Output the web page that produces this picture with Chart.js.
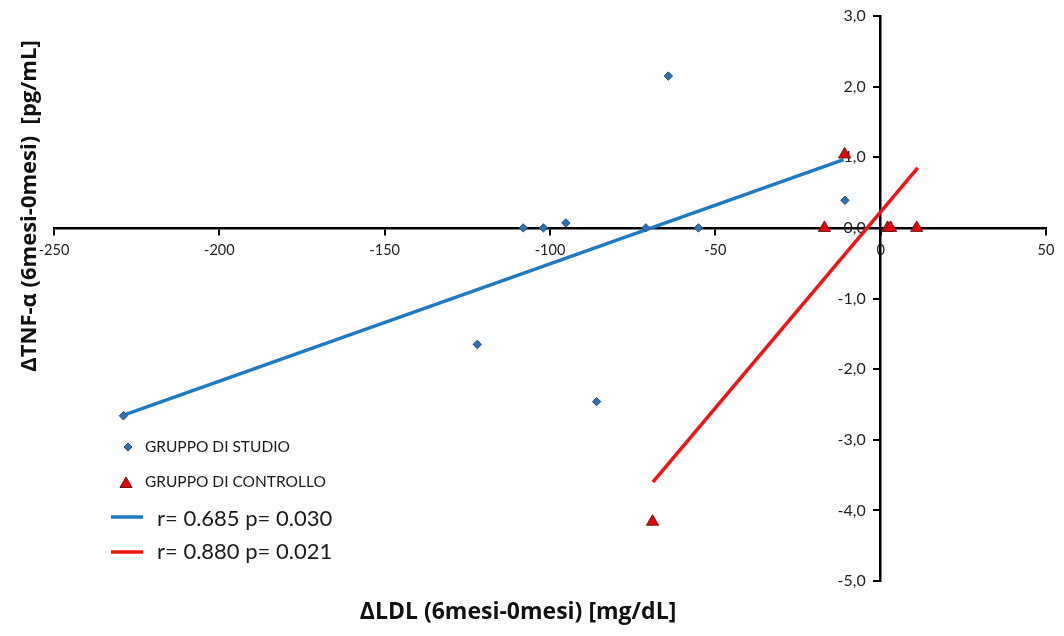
<!DOCTYPE html>
<html><head><meta charset="utf-8">
<script src="https://cdn.jsdelivr.net/npm/chart.js@4.4.1/dist/chart.umd.min.js"></script>
<style>html,body{margin:0;padding:0;background:#fff}#wrap{position:relative;width:1064px;height:636px}</style>
</head><body><div id="wrap"><canvas id="c" width="1064" height="636"></canvas></div>
<script>
// ---- data ----
const studyX = [-229, -122, -108.1, -102, -95.2, -85.9, -71, -64.2, -55.1, -10.8];
const studyY = [-2.66, -1.65, 0, 0, 0.07, -2.46, 0, 2.15, 0, 0.39];
const controlX = [-69, -17, -10.9, 2.1, 3.0, 10.9];
const controlY = [-4.16, 0, 1.04, 0, 0, 0];
const studyFitX = [-228.3, -11.2];
const studyFitY = [-2.64, 0.965];
const controlFitX = [-68.9, 11.2];
const controlFitY = [-3.6, 0.85];
const xTicks = [-250, -200, -150, -100, -50, 0, 50];
const yTicks = [-5, -4, -3, -2, -1, 0, 1, 2, 3];
const seriesNames = ['GRUPPO DI STUDIO', 'GRUPPO DI CONTROLLO'];
const fitNames = ['r= 0.685 p= 0.030', 'r= 0.880 p= 0.021'];
const xTitle = 'ΔLDL (6mesi-0mesi) [mg/dL]';
const yTitle = 'ΔTNF-α (6mesi-0mesi)  [pg/mL]';

const FONT = 'Lato, "Open Sans", sans-serif';
const TFONT = '"Open Sans", Lato, sans-serif';
Chart.defaults.font.family = FONT;
Chart.defaults.color = '#222';

const pts = (xs, ys) => xs.map((x, i) => ({x: x, y: ys[i]}));
const fmtY = v => v.toFixed(1).replace('.', ',');

const BLUE_PT = '#2F6FB3', BLUE_PT_B = '#1F4E79';
const RED_PT = '#E8000A', RED_PT_B = '#6B1A1A';
const BLUE_LN = '#1F7AC4', RED_LN = '#F01414';

function drawDiamond(ctx, x, y, r) {
  ctx.beginPath();
  ctx.moveTo(x, y - r); ctx.lineTo(x + r, y); ctx.lineTo(x, y + r); ctx.lineTo(x - r, y); ctx.closePath();
  ctx.fillStyle = BLUE_PT; ctx.fill();
  ctx.lineWidth = 1; ctx.strokeStyle = BLUE_PT_B; ctx.stroke();
}
function drawTriangle(ctx, x, y, r) {
  const s = Math.sin(2 * Math.PI / 3), c = Math.cos(2 * Math.PI / 3);
  ctx.beginPath();
  ctx.moveTo(x, y - r);
  ctx.lineTo(x + r * s, y - r * c);
  ctx.lineTo(x - r * s, y - r * c);
  ctx.closePath();
  ctx.fillStyle = RED_PT; ctx.fill();
  ctx.lineWidth = 1; ctx.strokeStyle = RED_PT_B; ctx.stroke();
}

// y tick labels, placed left of the crossing y axis (below the data marks)
const yLabels = {
  id: 'yLabels',
  beforeDatasetsDraw(chart) {
    const ctx = chart.ctx, sx = chart.scales.x, sy = chart.scales.y;
    const x0 = sx.getPixelForValue(0) - 6 - 9;
    ctx.save();
    ctx.font = '16px ' + FONT;
    ctx.fillStyle = '#222';
    ctx.textAlign = 'right';
    ctx.textBaseline = 'middle';
    yTicks.forEach(v => ctx.fillText(fmtY(v), x0, sy.getPixelForValue(v)));
    ctx.restore();
  }
};

const overlay = {
  id: 'overlay',
  afterDraw(chart) {
    const ctx = chart.ctx;
    ctx.save();
    // legend
    ctx.textBaseline = 'middle';
    ctx.textAlign = 'left';
    drawDiamond(ctx, 128, 447, 4);
    drawTriangle(ctx, 126, 484, 7);
    ctx.fillStyle = '#1a1a1a';
    ctx.font = '15.5px ' + FONT;
    ctx.fillText(seriesNames[0], 145, 447);
    ctx.fillText(seriesNames[1], 145, 482);
    ctx.lineWidth = 3.5; ctx.lineCap = 'butt';
    ctx.strokeStyle = BLUE_LN;
    ctx.beginPath(); ctx.moveTo(111, 517); ctx.lineTo(143, 517); ctx.stroke();
    ctx.strokeStyle = RED_LN;
    ctx.beginPath(); ctx.moveTo(111, 552); ctx.lineTo(143, 552); ctx.stroke();
    ctx.font = '22px ' + FONT;
    ctx.fillText(fitNames[0], 157, 519);
    ctx.fillText(fitNames[1], 157, 552);
    // axis titles
    ctx.fillStyle = '#111';
    ctx.textAlign = 'center';
    ctx.font = 'bold 23px ' + TFONT;
    ctx.fillText(xTitle, 518, 612);
    ctx.translate(30, 206);
    ctx.rotate(-Math.PI / 2);
    ctx.font = 'bold 22px ' + TFONT;
    ctx.fillText(yTitle, 0, 0);
    ctx.restore();
  }
};

new Chart(document.getElementById('c'), {
  type: 'scatter',
  data: {
    datasets: [
      {label: seriesNames[1], data: pts(controlX, controlY), pointStyle: 'triangle', pointRadius: 7,
       pointHoverRadius: 7, backgroundColor: RED_PT, borderColor: RED_PT_B, borderWidth: 1, order: 0},
      {label: seriesNames[0], data: pts(studyX, studyY), pointStyle: 'rectRot', pointRadius: 4.2,
       pointHoverRadius: 4.2, backgroundColor: BLUE_PT, borderColor: BLUE_PT_B, borderWidth: 1, order: 1},
      {label: fitNames[0], data: pts(studyFitX, studyFitY), showLine: true, pointRadius: 0,
       borderColor: BLUE_LN, borderWidth: 3.5, order: 2},
      {label: fitNames[1], data: pts(controlFitX, controlFitY), showLine: true, pointRadius: 0,
       borderColor: RED_LN, borderWidth: 3.5, order: 3}
    ]
  },
  options: {
    responsive: false,
    animation: false,
    events: [],
    layout: {padding: {left: 54, right: 18, top: 16, bottom: 55}},
    plugins: {legend: {display: false}, tooltip: {enabled: false}, title: {display: false}},
    scales: {
      x: {
        type: 'linear', min: -250, max: 50, position: {y: 0},
        afterBuildTicks: s => { s.ticks = xTicks.map(v => ({value: v})); },
        afterFit: s => { s.height = 0; },
        border: {color: '#000', width: 2.5},
        grid: {drawOnChartArea: false, drawTicks: true, tickLength: 6, color: '#000', lineWidth: 2},
        ticks: {font: {size: 14.5}, color: '#222', padding: 8, maxRotation: 0, autoSkip: false,
                callback: v => String(v)}
      },
      y: {
        type: 'linear', min: -5, max: 3, position: {x: 0},
        afterBuildTicks: s => { s.ticks = yTicks.map(v => ({value: v})); },
        afterFit: s => { s.width = 0; },
        border: {color: '#000', width: 2.5},
        grid: {drawOnChartArea: false, drawTicks: true, tickLength: 6, color: '#000', lineWidth: 2},
        ticks: {display: false}
      }
    }
  },
  plugins: [yLabels, overlay]
});
</script>
</body></html>
